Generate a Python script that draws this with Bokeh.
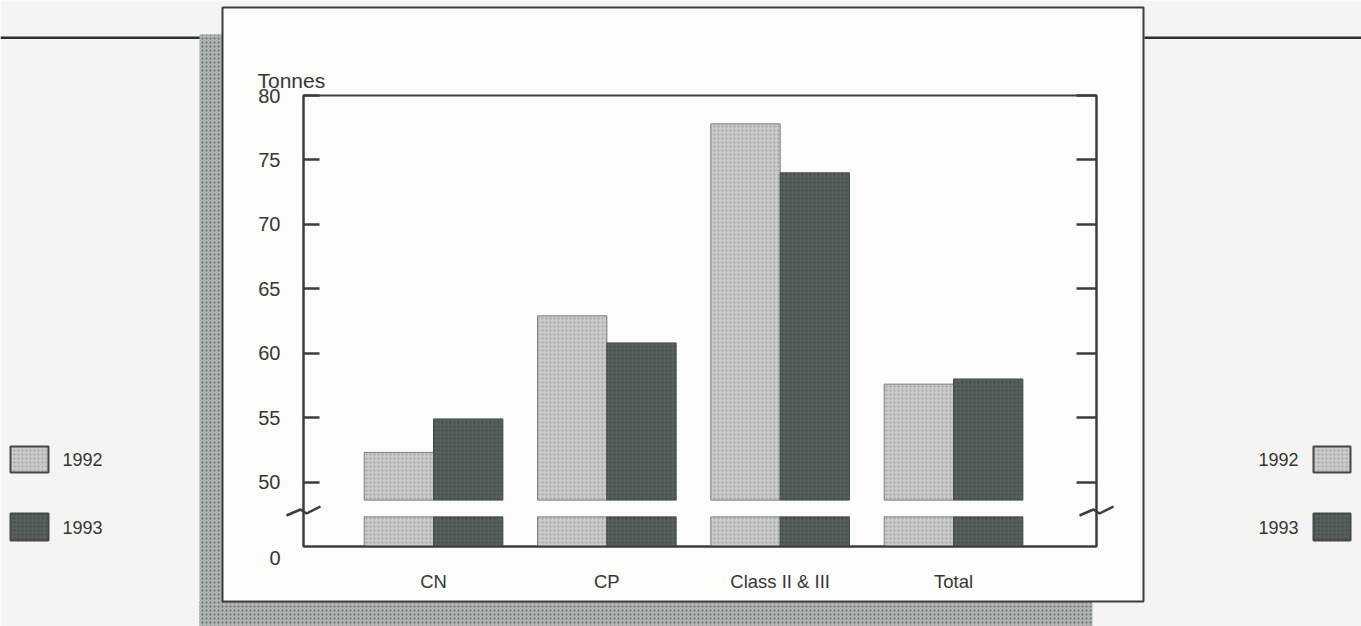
from bokeh.plotting import figure
from bokeh.layouts import row
from bokeh.models import Range1d, FixedTicker, LinearAxis
from bokeh.core.properties import value
from bokeh.embed import file_html
from bokeh.resources import INLINE

# ---------------- data ----------------
categories = ["CN", "CP", "Class II & III", "Total"]
series_names = ["1992", "1993"]
values_1992 = [52.3, 62.9, 77.8, 57.6]
values_1993 = [54.9, 60.8, 74.0, 58.0]
y_ticks = [50, 55, 60, 65, 70, 75, 80]
zero_label = "0"
unit_label = "Tonnes"

# ---------------- layout / style ----------------
FONT = "Liberation Sans"
TXT = "#363636"
DARK = "#3c3c3c"
PAGE = "#f4f5f3"
PANEL = "#fcfcfb"
SHADOW = "#aeb3af"
C1992 = "#c8cbc7"
C1993 = "#56605b"
H1992 = "#9ea29e"
H1993 = "#414944"

W, H = 1361, 626
FL, FT, FR, FB = 303, 95, 1096, 546      # chart frame edges (page px)
X0, X1 = 0.25, 4.825
Y0, Y1 = 45.0, 80.0                      # Y0 = broken-axis origin (labelled "0")
BREAK_LO, BREAK_HI = 47.3, 48.6
BAR_W = 0.4

# ---------------- background sheet (page-pixel coordinates) ----------------
bg = figure(width=W, height=H, x_range=Range1d(0, W), y_range=Range1d(H, 0),
            x_axis_type=None, y_axis_type=None, output_backend="svg",
            toolbar_location=None, min_border=0)
bg.frame_align = False
bg.outline_line_color = None
bg.background_fill_color = PAGE
bg.border_fill_color = PAGE

# rules across the page
bg.quad(left=[0, 1144], right=[221, W], top=[36, 36], bottom=[38.5, 38.5],
        fill_color="#2e2e2e", line_color=None)
# halftone shadow of the panel
bg.quad(left=[199, 199], right=[222, 1092], top=[34, 601], bottom=[H, H],
        fill_color=SHADOW, line_color=None,
        hatch_pattern="dot", hatch_color="#68706b", hatch_scale=4, hatch_weight=1.5)
# white panel
bg.quad(left=[222], right=[1143], top=[7], bottom=[601],
        fill_color=PANEL, line_color="#3e3e3e", line_width=2)

# axis break marks
for cx in (FL, FR):
    bg.line(x=[cx - 17, cx - 3, cx + 3, cx + 17], y=[515, 509, 513, 506],
            line_color=DARK, line_width=2.5)

text_kw = dict(text_font=value(FONT), text_font_size="18px", text_color=TXT)
bg.text(x=[280], y=[557], text=[zero_label], text_align="right", text_baseline="middle",
        text_font=value(FONT), text_font_size="20px", text_color=TXT)
bg.text(x=[257], y=[80], text=[unit_label], text_align="left", text_baseline="alphabetic",
        text_font=value(FONT), text_font_size="21px", text_color=TXT)

# legends (left: box then label, right: label then box)
leg_top = [446, 513]
leg_bot = [472, 540]
leg_col = [C1992, C1993]
leg_hatch = [H1992, H1993]
for lx, rx in [(10, 48), (1313, 1350)]:
    bg.quad(left=[lx, lx], right=[rx, rx], top=leg_top, bottom=leg_bot,
            fill_color=leg_col, line_color="#474747", line_width=2,
            hatch_pattern="dot", hatch_color=leg_hatch, hatch_scale=4, hatch_weight=1.2)
leg_cy = [(a + b) / 2 for a, b in zip(leg_top, leg_bot)]
bg.text(x=[62, 62], y=leg_cy, text=series_names, text_align="left", text_baseline="middle", **text_kw)
bg.text(x=[1298, 1298], y=leg_cy, text=series_names, text_align="right", text_baseline="middle", **text_kw)

# ---------------- chart (transparent, overlaid) ----------------
p = figure(width=W, height=H, x_range=Range1d(X0, X1), y_range=Range1d(Y0, Y1),
           output_backend="svg", toolbar_location=None,
           min_border_left=FL, min_border_right=W - FR,
           min_border_top=FT, min_border_bottom=H - FB,
           margin=(0, 0, 0, -W))
p.frame_align = False
p.grid.visible = False
p.background_fill_color = None
p.border_fill_color = None
p.outline_line_color = DARK
p.outline_line_width = 2

xa = p.xaxis[0]
xa.ticker = FixedTicker(ticks=[i + 1 for i in range(len(categories))])
xa.major_label_overrides = {i + 1: c for i, c in enumerate(categories)}
xa.major_tick_line_color = None
xa.minor_tick_line_color = None
xa.axis_line_color = DARK
xa.axis_line_width = 2
xa.major_label_standoff = 18
xa.major_label_text_font = FONT
xa.major_label_text_font_size = "18.5px"
xa.major_label_text_color = TXT

ya = p.yaxis[0]
ya.ticker = FixedTicker(ticks=y_ticks)
ya.major_tick_in = 16
ya.major_tick_out = 0
ya.major_tick_line_width = 2.5
ya.major_tick_line_color = DARK
ya.minor_tick_line_color = None
ya.axis_line_color = DARK
ya.axis_line_width = 2
ya.major_label_standoff = 23
ya.major_label_text_font = FONT
ya.major_label_text_font_size = "20px"
ya.major_label_text_color = TXT

ra = LinearAxis(ticker=FixedTicker(ticks=y_ticks))
ra.major_label_overrides = {t: "" for t in y_ticks}
ra.major_tick_in = 20
ra.major_tick_out = 0
ra.major_tick_line_width = 2.5
ra.major_tick_line_color = DARK
ra.minor_tick_line_color = None
ra.axis_line_color = DARK
ra.axis_line_width = 2
p.add_layout(ra, "right")

n = len(categories)
x1992 = [i + 1 - BAR_W / 2 for i in range(n)]
x1993 = [i + 1 + BAR_W / 2 for i in range(n)]
for xs, vals, col, lc, hc in [(x1992, values_1992, C1992, "#7a7e7a", H1992),
                              (x1993, values_1993, C1993, "#454d49", H1993)]:
    for bottom, top in [(BREAK_HI, vals), (Y0, BREAK_LO)]:
        p.vbar(x=xs, width=BAR_W, bottom=bottom, top=top, fill_color=col, line_color=lc, line_width=1,
               hatch_pattern="dot", hatch_color=hc, hatch_scale=4, hatch_weight=1.2)

layout = row(bg, p, spacing=0)
open("out.html", "w").write(file_html(layout, INLINE))
